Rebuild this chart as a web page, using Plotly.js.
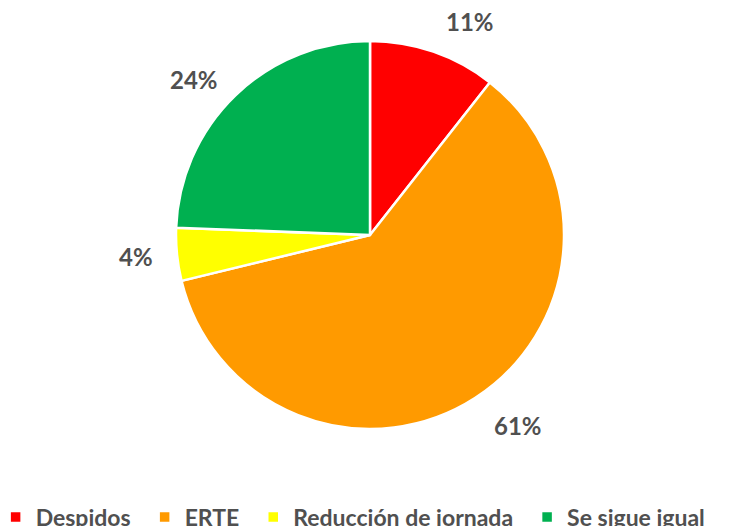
<!DOCTYPE html>
<html>
<head>
<meta charset="utf-8">
<script src="https://cdn.plot.ly/plotly-3.0.1.min.js"></script>
<style>html,body{margin:0;padding:0;background:#fff;}#chart{width:743px;height:526px;}</style>
</head>
<body>
<div id="chart"></div>
<script>
const categories = ["Despidos", "ERTE", "Reducción de jornada", "Se sigue igual"];
const values = [10.6, 60.6, 4.4, 24.4];
const colors = ["#FF0000", "#FF9A00", "#FFFF00", "#00B050"];

const W = 743, H = 526;
const cx = 370, cy = 235, R = 194;
const labelDistRight = 226, labelDistLeft = 216;
const FONT = "Lato, 'Open Sans', sans-serif";
const TXT = "#505050";

const total = values.reduce((a, b) => a + b, 0);
let cum = 0;
const annotations = values.map((v, i) => {
  const mid = (cum + v / 2) / total * 2 * Math.PI;
  cum += v;
  const right = Math.sin(mid) >= 0;
  const d = right ? labelDistRight : labelDistLeft;
  const px = cx + d * Math.sin(mid);
  const py = cy - d * Math.cos(mid);
  return {
    xref: "paper", yref: "paper",
    x: px / W, y: 1 - py / H,
    xanchor: right ? "left" : "right",
    yanchor: "middle",
    showarrow: false,
    text: Math.round(v / total * 100) + "%",
    font: {family: FONT, size: 24, color: TXT, weight: "bold"}
  };
});

const trace = {
  type: "pie",
  labels: categories,
  values: values,
  marker: {colors: colors, line: {color: "#FFFFFF", width: 2.5}},
  sort: false,
  direction: "clockwise",
  rotation: 0,
  textinfo: "none",
  hoverinfo: "label+percent",
  domain: {x: [(cx - R) / W, (cx + R) / W], y: [1 - (cy + R) / H, 1 - (cy - R) / H]}
};

const layout = {
  width: W, height: H,
  margin: {l: 0, r: 0, t: 0, b: 0, autoexpand: false},
  paper_bgcolor: "#FFFFFF",
  showlegend: true,
  legend: {
    orientation: "h",
    x: -0.018, xanchor: "left",
    y: -0.024, yanchor: "bottom",
    indentation: 9,
    font: {family: FONT, size: 23, color: TXT, weight: "bold"},
    traceorder: "normal",
    itemclick: false
  },
  annotations: annotations
};

Plotly.newPlot("chart", [trace], layout, {displayModeBar: false, staticPlot: true});
</script>
</body>
</html>
